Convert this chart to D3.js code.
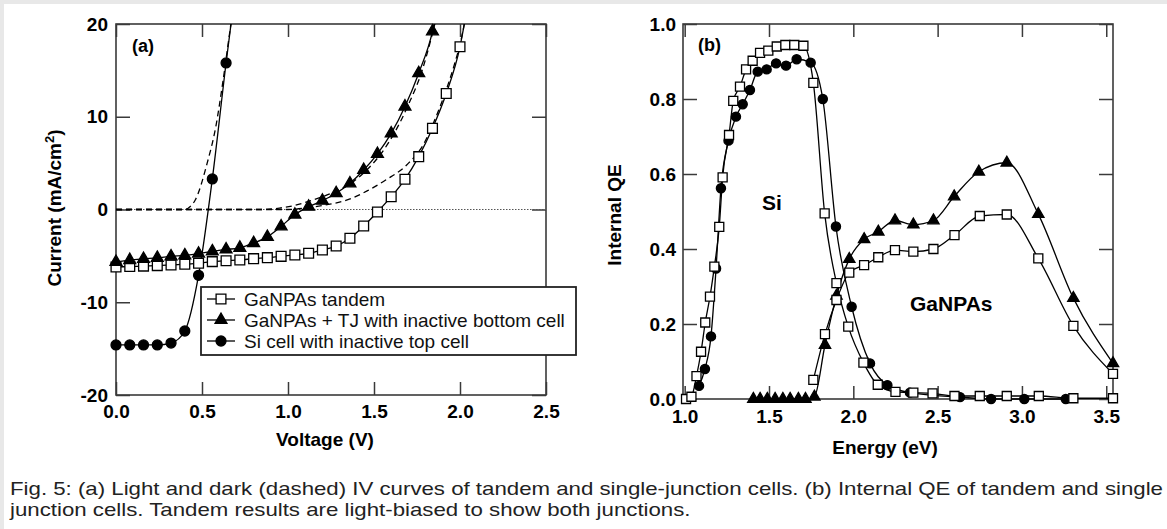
<!DOCTYPE html>
<html>
<head>
<meta charset="utf-8">
<script src="https://cdn.jsdelivr.net/npm/d3@7"></script>
<style>
html, body { margin: 0; padding: 0; background: #e8e8e8; }
svg { display: block; }
</style>
</head>
<body>
<svg id="fig" width="1167" height="529"></svg>
<script>
const W = 1167, H = 529;
const FONT = '"Liberation Sans", Arial, Helvetica, sans-serif';

// ---------- (a) IV curves : [voltage (V), current (mA/cm2)] ----------
const tandemLight = [[0,-6.2],[0.08,-6.15],[0.16,-6.1],[0.24,-6.05],[0.32,-5.98],[0.40,-5.9],
  [0.48,-5.8],[0.56,-5.62],[0.64,-5.52],[0.72,-5.44],[0.80,-5.3],[0.88,-5.19],[0.96,-5.05],
  [1.04,-4.9],[1.12,-4.72],[1.20,-4.37],[1.28,-3.94],[1.36,-3.1],[1.44,-1.78],[1.52,-0.27],
  [1.60,1.38],[1.68,3.26],[1.76,5.7],[1.84,8.75],[1.92,12.5],[2.00,17.55]];
const tandemLightTail = [[2.03,20.5]];

const tjLight = [[0,-5.65],[0.08,-5.45],[0.16,-5.32],[0.24,-5.21],[0.32,-5.05],[0.40,-4.94],
  [0.48,-4.76],[0.56,-4.51],[0.64,-4.31],[0.72,-4.13],[0.80,-3.62],[0.88,-2.95],[0.96,-1.82],
  [1.04,-0.55],[1.12,0.3],[1.20,0.95],[1.28,1.75],[1.36,2.82],[1.44,4.26],[1.52,6.0],
  [1.60,8.2],[1.68,11.1],[1.76,14.7],[1.84,19.2]];
const tjLightTail = [[1.855,20.5]];

const siLight = [[0,-14.6],[0.08,-14.6],[0.16,-14.6],[0.24,-14.6],[0.32,-14.4],[0.40,-13.1],
  [0.48,-7.1],[0.56,3.3],[0.64,15.8]];
const siLightTail = [[0.672,20.5]];

// dark (dashed) curves, no markers
const tandemDark = [[0,0],[1.0,0],[1.1,0.15],[1.22,0.5],[1.34,1.0],[1.46,2.0],[1.57,3.2],
  [1.69,4.8],[1.79,7.1],[1.865,10.2],[1.92,12.9],[1.97,15.8],[2.01,18.6],[2.03,20.5]];
const tjDark = [[0,0],[0.85,0],[0.95,0.15],[1.04,0.45],[1.14,1.0],[1.27,1.9],[1.38,3.0],
  [1.46,4.3],[1.54,6.0],[1.62,8.3],[1.70,11.3],[1.78,15.0],[1.84,19.0],[1.86,20.5]];
const siDark = [[0,0],[0.40,0],[0.43,0.3],[0.46,1.0],[0.53,5.0],[0.58,8.9],[0.62,13.6],
  [0.665,19.6],[0.672,20.5]];

const ivXTicks = [0, 0.5, 1.0, 1.5, 2.0, 2.5];
const ivYTicks = [-20, -10, 0, 10, 20];
const legendLabels = ["GaNPAs tandem", "GaNPAs + TJ with inactive bottom cell", "Si cell with inactive top cell"];

// ---------- (b) internal QE : [energy (eV), QE] ----------
const tandemSiQE = [[1.008,0.0],[1.04,0.006],[1.07,0.061],[1.097,0.126],[1.122,0.204],[1.15,0.273],
  [1.176,0.353],[1.205,0.459],[1.225,0.591],[1.263,0.704],[1.288,0.795],[1.328,0.833],[1.364,0.879],
  [1.403,0.902],[1.447,0.923],[1.496,0.929],[1.546,0.94],[1.597,0.944],[1.65,0.944],[1.704,0.942],
  [1.763,0.843],[1.83,0.495],[1.90,0.309],[1.97,0.193],[2.06,0.097],[2.145,0.038],[2.25,0.019],
  [2.356,0.017],[2.47,0.015],[2.60,0.008],[2.75,0.008],[2.91,0.008],[3.10,0.008],[3.305,0.002],[3.54,0.002]];
const tandemTopQE = [[1.763,0.051],[1.832,0.173],[1.90,0.264],[1.976,0.337],[2.064,0.357],[2.148,0.378],
  [2.247,0.397],[2.356,0.393],[2.475,0.40],[2.60,0.437],[2.75,0.488],[2.91,0.492],[3.097,0.375],
  [3.305,0.195],[3.54,0.067]];
const tjQE = [[1.407,0],[1.447,0],[1.49,0],[1.536,0],[1.582,0],[1.625,0],[1.674,0],[1.716,0],
  [1.769,0.006],[1.832,0.144],[1.90,0.275],[1.976,0.373],[2.064,0.426],[2.148,0.446],[2.247,0.476],
  [2.356,0.465],[2.475,0.476],[2.598,0.54],[2.744,0.606],[2.91,0.63],[3.097,0.493],[3.305,0.269],[3.54,0.095]];
const siQE = [[1.085,0.035],[1.12,0.08],[1.156,0.167],[1.186,0.348],[1.215,0.562],[1.26,0.689],
  [1.304,0.753],[1.344,0.786],[1.387,0.824],[1.433,0.873],[1.486,0.879],[1.542,0.895],[1.601,0.889],
  [1.664,0.906],[1.747,0.897],[1.819,0.80],[1.897,0.46],[1.99,0.246],[2.099,0.095],[2.202,0.037],
  [2.336,0.017],[2.633,0.005],[2.817,0.0],[3.014,0.0],[3.26,0.0]];

const qeXTicks = [1.0, 1.5, 2.0, 2.5, 3.0, 3.5];
const qeYTicks = [0, 0.2, 0.4, 0.6, 0.8, 1.0];

const captionLines = [
  "Fig. 5: (a) Light and dark (dashed) IV curves of tandem and single-junction cells. (b) Internal QE of tandem and single",
  "junction cells. Tandem results are light-biased to show both junctions."
];

// ------------------------------------------------------------------
const svg = d3.select('#fig');
svg.append('rect').attr('x', 4).attr('y', 4).attr('width', W - 4).attr('height', H - 4).attr('fill', 'white');

const xA = d3.scaleLinear().domain([0, 2.5]).range([116, 546]);
const yA = d3.scaleLinear().domain([-20, 20]).range([395, 24]);
const xB = d3.scaleLinear().domain([0.99, 3.54]).range([683, 1113]);
const yB = d3.scaleLinear().domain([0, 1]).range([399, 24]);

const FRAME = '#3a3a3a';

function styleAxis(g, showLabels) {
  g.attr('font-family', FONT).attr('font-size', 19).attr('font-weight', 'bold').attr('color', FRAME);
  g.select('.domain').remove();
  g.selectAll('.tick line').attr('stroke-width', 1.5);
  g.selectAll('.tick text').attr('fill', 'black');
  if (!showLabels) g.selectAll('.tick text').remove();
}

function drawAxes(x, y, xt, yt, fx, fy, xPad, yPad) {
  var x0 = x.range()[0], x1 = x.range()[1], y0 = y.range()[0], y1 = y.range()[1];
  svg.append('g').attr('transform', `translate(0,${y0})`)
    .call(d3.axisBottom(x).tickValues(xt).tickFormat(fx).tickSizeInner(-13).tickSizeOuter(0).tickPadding(xPad))
    .call(g => styleAxis(g, true));
  svg.append('g').attr('transform', `translate(0,${y1})`)
    .call(d3.axisTop(x).tickValues(xt).tickSizeInner(-13).tickSizeOuter(0))
    .call(g => styleAxis(g, false));
  svg.append('g').attr('transform', `translate(${x0},0)`)
    .call(d3.axisLeft(y).tickValues(yt).tickFormat(fy).tickSizeInner(-14).tickSizeOuter(0).tickPadding(yPad))
    .call(g => styleAxis(g, true));
  svg.append('g').attr('transform', `translate(${x1},0)`)
    .call(d3.axisRight(y).tickValues(yt).tickSizeInner(-14).tickSizeOuter(0))
    .call(g => styleAxis(g, false));
  svg.append('rect')
    .attr('x', x0).attr('y', y1).attr('width', x1 - x0).attr('height', y0 - y1)
    .attr('fill', 'none').attr('stroke', FRAME).attr('stroke-width', 1.6);
}

function clipFor(id, x, y) {
  svg.append('clipPath').attr('id', id).append('rect')
    .attr('x', x.range()[0]).attr('y', y.range()[1])
    .attr('width', x.range()[1] - x.range()[0]).attr('height', y.range()[0] - y.range()[1]);
  return 'url(#' + id + ')';
}

function drawLine(g, x, y, pts, dashed) {
  var line = d3.line().x(d => x(d[0])).y(d => y(d[1])).curve(d3.curveMonotoneX);
  g.append('path').datum(pts).attr('d', line)
    .attr('fill', 'none').attr('stroke', 'black').attr('stroke-width', 1.3)
    .attr('stroke-dasharray', dashed ? '6,4' : null);
}

const SHAPES = {
  square: { type: d3.symbolSquare, fill: 'white' },
  triangle: { type: d3.symbolTriangle, fill: 'black' },
  circle: { type: d3.symbolCircle, fill: 'black' }
};

function marker(shape, scale) {
  var sizes = { square: 96, triangle: 56, circle: 78 };
  return d3.symbol().type(SHAPES[shape].type).size(sizes[shape] * scale);
}

function drawMarkers(g, x, y, pts, shape, scale) {
  g.selectAll(null).data(pts).enter().append('path')
    .attr('transform', d => `translate(${x(d[0])},${y(d[1])})`)
    .attr('d', marker(shape, scale))
    .attr('fill', SHAPES[shape].fill)
    .attr('stroke', 'black').attr('stroke-width', 1.3);
}

function boldText(x, y, txt, size, anchor) {
  return svg.append('text').attr('x', x).attr('y', y)
    .attr('font-family', FONT).attr('font-weight', 'bold').attr('font-size', size)
    .attr('text-anchor', anchor || 'start').text(txt);
}

// ---------------- panel (a) ----------------
drawAxes(xA, yA, ivXTicks, ivYTicks, d3.format('.1f'), d => String(d), 10, 8);

const gA = svg.append('g').attr('clip-path', clipFor('clipA', xA, yA));
// zero reference line
gA.append('line').attr('x1', xA(0)).attr('x2', xA(2.5)).attr('y1', yA(0)).attr('y2', yA(0))
  .attr('stroke', '#555').attr('stroke-width', 1).attr('stroke-dasharray', '1.5,1.5');

drawLine(gA, xA, yA, siDark, true);
drawLine(gA, xA, yA, tjDark, true);
drawLine(gA, xA, yA, tandemDark, true);
drawLine(gA, xA, yA, siLight.concat(siLightTail), false);
drawLine(gA, xA, yA, tjLight.concat(tjLightTail), false);
drawLine(gA, xA, yA, tandemLight.concat(tandemLightTail), false);

const mA = svg.append('g');
drawMarkers(mA, xA, yA, tandemLight, 'square', 1);
drawMarkers(mA, xA, yA, tjLight, 'triangle', 1.1);
drawMarkers(mA, xA, yA, siLight, 'circle', 1);

boldText(132, 52, '(a)', 18);

var curT = svg.append('text')
  .attr('transform', 'translate(61,208) rotate(-90)')
  .attr('font-family', FONT).attr('font-weight', 'bold').attr('font-size', 19)
  .attr('text-anchor', 'middle');
curT.append('tspan').text('Current (mA/cm');
curT.append('tspan').attr('dy', -7).attr('font-size', 13).text('2');
curT.append('tspan').attr('dy', 7).text(')');

boldText(325, 446, 'Voltage (V)', 19, 'middle');

// legend
const legend = svg.append('g');
legend.append('rect').attr('x', 201).attr('y', 287).attr('width', 375).attr('height', 68)
  .attr('fill', 'white').attr('stroke', '#222').attr('stroke-width', 1.8);
const legendShapes = ['square', 'triangle', 'circle'];
legendLabels.forEach(function (lab, i) {
  var cy = 299 + i * 21;
  legend.append('line').attr('x1', 207).attr('x2', 235).attr('y1', cy).attr('y2', cy)
    .attr('stroke', 'black').attr('stroke-width', 1.3);
  legend.append('path').attr('transform', `translate(221,${cy})`)
    .attr('d', marker(legendShapes[i], legendShapes[i] === 'triangle' ? 1.1 : 1))
    .attr('fill', SHAPES[legendShapes[i]].fill).attr('stroke', 'black').attr('stroke-width', 1.3);
  legend.append('text').attr('x', 244).attr('y', cy + 7)
    .attr('font-family', FONT).attr('font-size', 19).attr('fill', '#111').text(lab);
});

// ---------------- panel (b) ----------------
drawAxes(xB, yB, qeXTicks, qeYTicks, d3.format('.1f'), d3.format('.1f'), 11, 7);

const gB = svg.append('g');
drawLine(gB, xB, yB, tandemSiQE, false);
drawLine(gB, xB, yB, tandemTopQE, false);
drawLine(gB, xB, yB, tjQE, false);
drawLine(gB, xB, yB, siQE, false);
drawMarkers(gB, xB, yB, siQE, 'circle', 0.85);
drawMarkers(gB, xB, yB, tjQE, 'triangle', 1.0);
drawMarkers(gB, xB, yB, tandemSiQE, 'square', 0.85);
drawMarkers(gB, xB, yB, tandemTopQE, 'square', 0.85);

boldText(698, 51, '(b)', 18);
boldText(762, 210, 'Si', 21);
boldText(910, 311, 'GaNPAs', 21);
svg.append('text').attr('transform', 'translate(621,215) rotate(-90)')
  .attr('font-family', FONT).attr('font-weight', 'bold').attr('font-size', 19)
  .attr('text-anchor', 'middle').text('Internal QE');
boldText(885, 454, 'Energy (eV)', 19, 'middle');

// ---------------- caption ----------------
const capNodes = captionLines.map(function (t, i) {
  return svg.append('text').attr('x', 10).attr('y', 495 + i * 21)
    .attr('font-family', FONT).attr('font-size', 18.5).attr('fill', '#222').text(t);
});
const capScale = 1153 / capNodes[0].node().getComputedTextLength();
capNodes.forEach(function (n) {
  n.attr('textLength', n.node().getComputedTextLength() * capScale)
   .attr('lengthAdjust', 'spacingAndGlyphs');
});
</script>
</body>
</html>
